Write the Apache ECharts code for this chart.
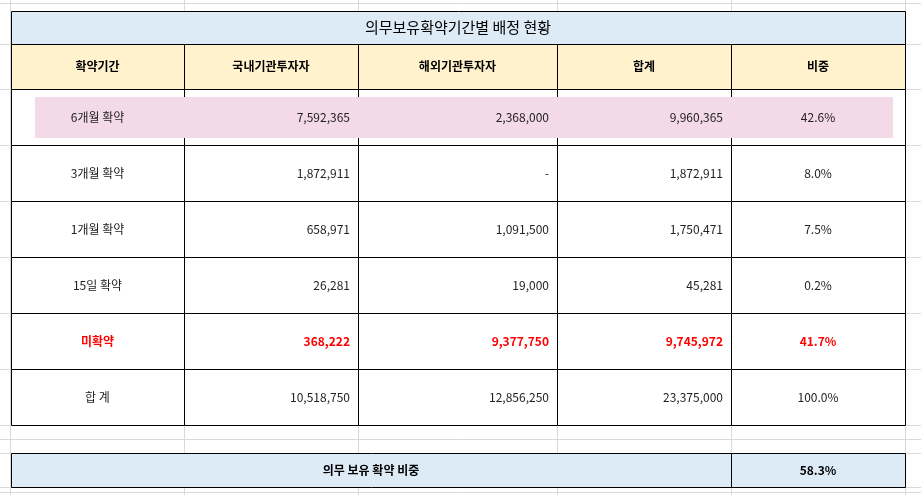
<!DOCTYPE html><html><head><meta charset="utf-8"><script src="https://cdn.jsdelivr.net/npm/echarts@6/dist/echarts.min.js"></script>
<style>html,body{margin:0;padding:0;background:#fff}#c{width:921px;height:495px}</style></head><body><div id="c"></div><script>
var title = '의무보유확약기간별 배정 현황';
var headers = ['확약기간','국내기관투자자','해외기관투자자','합계','비중'];
var periods = ['6개월 확약','3개월 확약','1개월 확약','15일 확약','미확약','합 계'];
var domestic = ['7,592,365','1,872,911','658,971','26,281','368,222','10,518,750'];
var foreign = ['2,368,000','-','1,091,500','19,000','9,377,750','12,856,250'];
var totals = ['9,960,365','1,872,911','1,750,471','45,281','9,745,972','23,375,000'];
var shares = ['42.6%','8.0%','7.5%','0.2%','41.7%','100.0%'];
var summaryLabel = '의무 보유 확약 비중';
var summaryValue = '58.3%';

// layout (pixel positions on the value axes)
var colX = [11,184,358,557,731,905];
var rowY = [11,44,89,145,201,257,313,369,425,453,487];
var F = '"Noto Sans CJK KR", sans-serif';

var items = [];
// background spreadsheet grid
[10,184,358,557,731,905].forEach(function(x){items.push({t:'vl',x:x});});
[3,44,89,145,201,257,313,369,425,439,453,487,492].forEach(function(y){items.push({t:'hl',y:y});});
// title
items.push({t:'cell',x0:colX[0],x1:colX[5],y0:rowY[0],y1:rowY[1],fill:'#ddebf7',text:title,size:15,align:'center',bold:false,color:'#000'});
headers.forEach(function(h,i){items.push({t:'cell',x0:colX[i],x1:colX[i+1],y0:rowY[1],y1:rowY[2],fill:'#fff2cc',text:h,size:12,align:'center',bold:true,color:'#000'});});
periods.forEach(function(p,r){
  var y0=rowY[r+2],y1=rowY[r+3];
  var red = r===4;
  var col = red?'#ff0000':'#222';
  var vals=[p,domestic[r],foreign[r],totals[r],shares[r]];
  vals.forEach(function(v,c){
    items.push({t:'cell',x0:colX[c],x1:colX[c+1],y0:y0,y1:y1,fill:'#fff',text:'',size:12});
  });
  if(r===0) items.push({t:'band',x0:35,x1:893,y0:97,y1:138});
  vals.forEach(function(v,c){
    items.push({t:'txt',x0:colX[c],x1:colX[c+1],y0:y0,y1:y1,text:v,size:12,align:(c===0||c===4)?'center':'right',bold:red,color:col});
  });
});
items.push({t:'cell',x0:colX[0],x1:colX[4],y0:rowY[9],y1:rowY[10],fill:'#ddebf7',text:summaryLabel,size:12,align:'center',bold:true,color:'#000'});
items.push({t:'cell',x0:colX[4],x1:colX[5],y0:rowY[9],y1:rowY[10],fill:'#ddebf7',text:summaryValue,size:12,align:'center',bold:true,color:'#000'});

function textEl(api,d){
  var a=api.coord([d.x0,d.y0]),b=api.coord([d.x1,d.y1]);
  var x = d.align==='center'?(a[0]+b[0])/2:b[0]-8;
  return {type:'text',style:{x:x,y:(a[1]+b[1])/2,text:d.text,fill:d.color,font:(d.bold?'bold ':'')+d.size+'px '+F,align:d.align,verticalAlign:'middle'}};
}
function render(params,api){
  var d=items[params.dataIndex];
  if(d.t==='vl'){var a=api.coord([d.x,0]),b=api.coord([d.x,495]);return {type:'line',shape:{x1:a[0]+.5,y1:a[1],x2:b[0]+.5,y2:b[1]},style:{stroke:'#d9d9d9',lineWidth:1}};}
  if(d.t==='hl'){var a=api.coord([0,d.y]),b=api.coord([921,d.y]);return {type:'line',shape:{x1:a[0],y1:a[1]+.5,x2:b[0],y2:b[1]+.5},style:{stroke:'#d9d9d9',lineWidth:1}};}
  var a=api.coord([d.x0,d.y0]),b=api.coord([d.x1,d.y1]);
  if(d.t==='band') return {type:'rect',shape:{x:a[0],y:a[1],width:b[0]-a[0],height:b[1]-a[1]},style:{fill:'#f4d9e8'}};
  if(d.t==='txt') return textEl(api,d);
  var ch=[{type:'rect',shape:{x:a[0]+.5,y:a[1]+.5,width:b[0]-a[0],height:b[1]-a[1]},style:{fill:d.fill,stroke:'#000',lineWidth:1}}];
  if(d.text) ch.push(textEl(api,d));
  return {type:'group',children:ch};
}
var chart=echarts.init(document.getElementById('c'));
chart.setOption({animation:false,
  grid:{left:0,right:0,top:0,bottom:0},
  xAxis:{type:'value',min:0,max:921,show:false},
  yAxis:{type:'value',min:0,max:495,inverse:true,show:false},
  series:[{type:'custom',renderItem:render,data:items.map(function(_,i){return [i];}),encode:{x:0},clip:false}]
});
</script></body></html>
